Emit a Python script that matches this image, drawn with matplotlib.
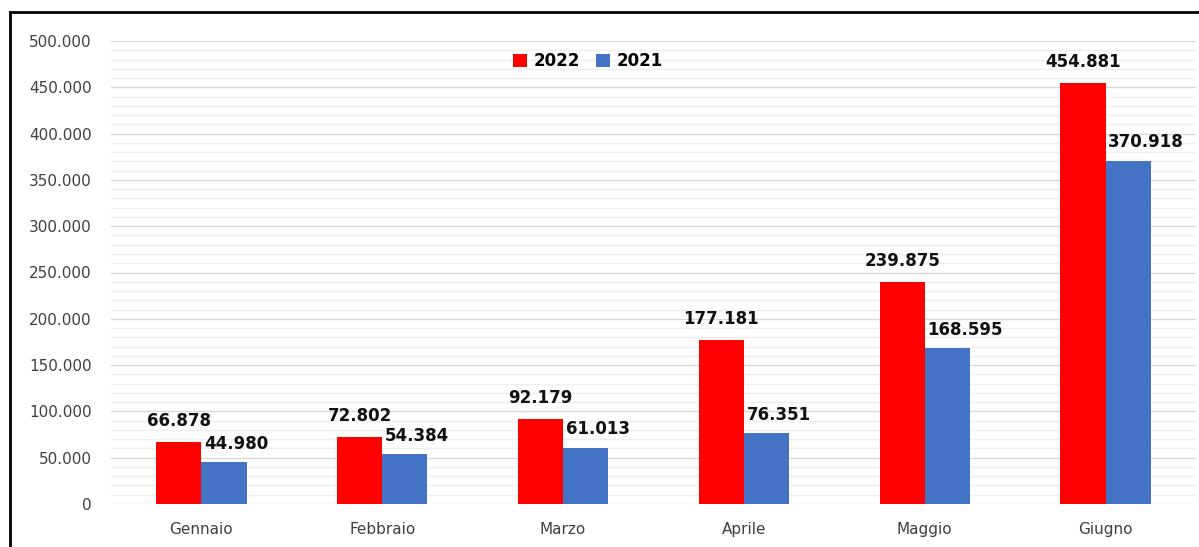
import matplotlib
matplotlib.use("Agg")
import matplotlib.pyplot as plt
from matplotlib.ticker import MultipleLocator, FuncFormatter
from matplotlib.lines import Line2D
import numpy as np

months = ["Gennaio", "Febbraio", "Marzo", "Aprile", "Maggio", "Giugno"]
series_names = ["2022", "2021"]
values_2022 = [66878, 72802, 92179, 177181, 239875, 454881]
values_2021 = [44980, 54384, 61013, 76351, 168595, 370918]

RED = "#ff0000"
BLUE = "#4472c4"

def fmt_it(v):
    return f"{int(v):,}".replace(",", ".")

W, H = 1199, 547
fig = plt.figure(figsize=(W / 100, H / 100), dpi=100)
ax = fig.add_axes([111 / W, 43 / H, (1196 - 111) / W, (504 - 41) / H])

x = np.arange(len(months))
bw = 0.25
b1 = ax.bar(x - bw / 2, values_2022, width=bw, color=RED, label=series_names[0], zorder=3)
b2 = ax.bar(x + bw / 2, values_2021, width=bw, color=BLUE, label=series_names[1], zorder=3)

for xi, v in zip(x, values_2022):
    ax.annotate(fmt_it(v), (xi - bw / 2, v), xytext=(0, 15), textcoords="offset points",
                ha="center", va="center", fontsize=12, fontweight="bold", color="#111111")
for xi, v in zip(x, values_2021):
    ax.annotate(fmt_it(v), (xi, v), xytext=(2, 13), textcoords="offset points",
                ha="left", va="center", fontsize=12, fontweight="bold", color="#111111")

ax.set_xlim(-0.5, len(months) - 0.5)
ax.set_ylim(0, 500000)
ax.yaxis.set_major_locator(MultipleLocator(50000))
ax.yaxis.set_minor_locator(MultipleLocator(10000))
ax.yaxis.set_major_formatter(FuncFormatter(lambda v, p: fmt_it(v)))
ax.set_xticks(x)
ax.set_xticklabels(months)
ax.grid(axis="y", which="major", color="#d9d9d9", linewidth=1.0, zorder=0)
ax.grid(axis="y", which="minor", color="#efefef", linewidth=1.0, zorder=0)
ax.set_axisbelow(True)
for s in ax.spines.values():
    s.set_visible(False)
ax.tick_params(axis="both", which="both", length=0)
ax.tick_params(axis="y", labelsize=11, labelcolor="#404040", pad=14)
ax.tick_params(axis="x", labelsize=11, labelcolor="#404040", pad=13)

leg = ax.legend(loc="center", bbox_to_anchor=((588 - 111) / 1085, (504 - 61) / 463), ncol=2,
                frameon=False, prop={"weight": "bold", "size": 12}, handlelength=0.8,
                handleheight=0.8, handletextpad=0.4, columnspacing=1.0)

# outer frame (top and left visible)
fig.add_artist(Line2D([10 / W, 10 / W], [0, 1 - 12 / H], color="black", linewidth=2, transform=fig.transFigure))
fig.add_artist(Line2D([10 / W, 1], [1 - 12 / H, 1 - 12 / H], color="black", linewidth=2, transform=fig.transFigure))

fig.savefig("out.png", dpi=100)
